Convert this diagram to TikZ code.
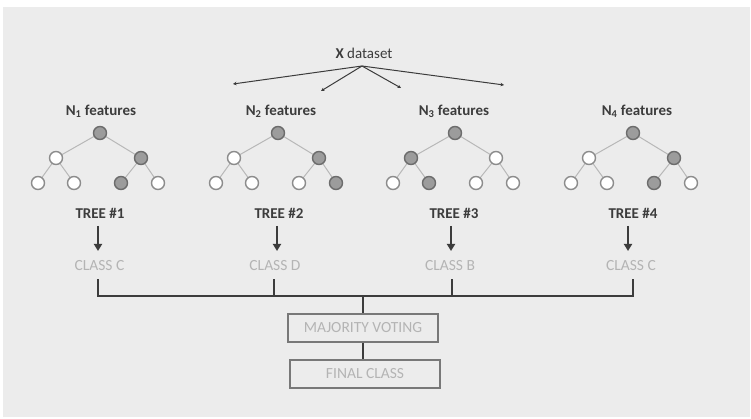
\documentclass[tikz,border=0pt]{standalone}
\usepackage{fontspec}
\setmainfont{Carlito}
\usetikzlibrary{arrows.meta}
\definecolor{panel}{HTML}{ECECEC}
\definecolor{inkdark}{HTML}{3C3C3C}
\definecolor{faint}{HTML}{B4B4B4}
\definecolor{edgegray}{HTML}{B8B8B8}
\definecolor{nodefill}{HTML}{9C9C9C}
\definecolor{nodeline}{HTML}{6C6C6C}
\definecolor{openline}{HTML}{8C8C8C}
\definecolor{boxline}{HTML}{787878}
\tikzset{
  lbl/.style={font=\fontsize{15}{17}\selectfont\bfseries, text=inkdark, inner sep=0pt},
  cls/.style={font=\fontsize{15.5}{17}\selectfont, text=faint, inner sep=0pt},
  leafopen/.style={circle, draw=openline, fill=white, line width=1.4pt, minimum size=13pt, inner sep=0pt},
  leaffull/.style={circle, draw=nodeline, fill=nodefill, line width=1.4pt, minimum size=13pt, inner sep=0pt},
  branch/.style={draw=edgegray, line width=1pt},
  votebox/.style={draw=boxline, line width=1.2pt, minimum width=150pt, minimum height=28pt, inner sep=0pt,
    font=\fontsize{15.5}{17}\selectfont, text=faint},
  wire/.style={draw=inkdark, line width=1.3pt},
  fan/.style={draw=inkdark, line width=1pt, -{Stealth[length=3.5pt,width=3.5pt]}},
  down/.style={draw=inkdark, line width=2.6pt, -{Triangle[length=7pt,width=8pt]}}
}
% one tree: #1 prefix, #2 root x, #3..#9 style of root, children, leaves
\newcommand{\drawtree}[9]{%
  \node[#3] (#1r) at (#2,133) {};
  \node[#4] (#1a) at (#2-44,158) {};
  \node[#5] (#1b) at (#2+41,158) {};
  \node[#6] (#1p) at (#2-62,183) {};
  \node[#7] (#1q) at (#2-26,183) {};
  \node[#8] (#1s) at (#2+21,183) {};
  \node[#9] (#1t) at (#2+58,183) {};
  \begin{pgfonlayer}{background}
  \draw[branch] (#1r.center) -- (#1a.center) (#1r.center) -- (#1b.center)
    (#1a.center) -- (#1p.center) (#1a.center) -- (#1q.center)
    (#1b.center) -- (#1s.center) (#1b.center) -- (#1t.center);
  \end{pgfonlayer}
}
\pgfdeclarelayer{background}
\pgfdeclarelayer{backdrop}
\pgfsetlayers{backdrop,background,main}
\begin{document}
\begin{tikzpicture}[x=1pt,y=-1pt]
\useasboundingbox (0,0) rectangle (751,419);
\begin{pgfonlayer}{backdrop}
\fill[white] (0,0) rectangle (751,419);
\fill[panel] (3,7) rectangle (750,417);
\end{pgfonlayer}

% dataset and its four samples
\node[font=\fontsize{15}{17}\selectfont, text=inkdark, inner sep=0pt] (ds) at (364,53) {\textbf{X} dataset};
\coordinate (split) at (362,66);
\coordinate (s1) at (233,84);
\coordinate (s2) at (321,91);
\coordinate (s3) at (401,88);
\coordinate (s4) at (504,85);
\draw[fan] (split) -- (s1);
\draw[fan] (split) -- (s2);
\draw[fan] (split) -- (s3);
\draw[fan] (split) -- (s4);

% feature labels
\node[lbl] (f1) at (101,111) {N\textsubscript{1} features};
\node[lbl] (f2) at (281,111) {N\textsubscript{2} features};
\node[lbl] (f3) at (454,111) {N\textsubscript{3} features};
\node[lbl] (f4) at (637,111) {N\textsubscript{4} features};

% the four trees
\drawtree{ta}{100}{leaffull}{leafopen}{leaffull}{leafopen}{leafopen}{leaffull}{leafopen}
\drawtree{tb}{278}{leaffull}{leafopen}{leaffull}{leafopen}{leafopen}{leafopen}{leaffull}
\drawtree{tc}{455}{leaffull}{leaffull}{leafopen}{leafopen}{leaffull}{leafopen}{leafopen}
\drawtree{td}{633}{leaffull}{leafopen}{leaffull}{leafopen}{leafopen}{leaffull}{leafopen}

% tree names
\node[lbl] (n1) at (100,213) {TREE \#1};
\node[lbl] (n2) at (279,213) {TREE \#2};
\node[lbl] (n3) at (454,213) {TREE \#3};
\node[lbl] (n4) at (633,213) {TREE \#4};

% predictions
\node[cls] (c1) at (99.5,266) {CLASS C};
\node[cls] (c2) at (275,266) {CLASS D};
\node[cls] (c3) at (450,266) {CLASS B};
\node[cls] (c4) at (631,266) {CLASS C};

\draw[down] (98,226) -- (98,251);
\draw[down] (277,226) -- (277,251);
\draw[down] (451,226) -- (451,251);
\draw[down] (628,226) -- (628,251);

% voting
\node[votebox] (mv) at (363,328) {MAJORITY VOTING};
\node[votebox] (fc) at (365,374) {FINAL CLASS};

\coordinate (j1) at (98,296);
\coordinate (j4) at (633,296);
\draw[wire] (98,279) -- (j1) -- (j4) -- (633,279);
\draw[wire] (274,279) -- (274,296);
\draw[wire] (452,279) -- (452,296);
\draw[wire] (363,296) -- (mv.north);
\draw[wire] (mv.south) -- (mv.south |- fc.north);
\end{tikzpicture}
\end{document}
